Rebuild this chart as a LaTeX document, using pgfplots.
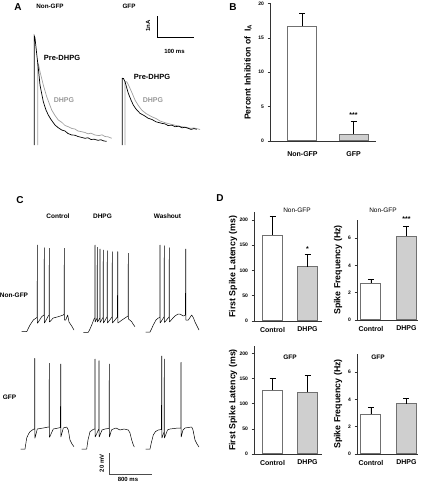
\documentclass[border=0pt]{standalone}
\usepackage{pgfplots}
\pgfplotsset{compat=1.18}
\usepackage{fontspec}
\setmainfont{Liberation Sans}
\definecolor{tracegray}{HTML}{A0A0A0}
\definecolor{labgray}{HTML}{999999}
\definecolor{barfill}{HTML}{CFCFCF}
\definecolor{barline}{HTML}{707070}
\pgfplotsset{
  barax/.style={
    scale only axis, anchor=south west,
    axis x line=bottom, axis y line=left,
    axis line style={-, draw=black!80, line width=0.7pt},
    ybar, bar shift=0pt, ymin=0,
    xtick={0,1},
    x tick style={draw=none},
    ytick pos=left, tick align=outside,
    major tick length=2.5pt,
    y tick style={black!80, line width=0.6pt},
    /pgf/number format/assume math mode=true,
    yticklabel style={font=\fontsize{5}{6}\selectfont\bfseries},
    xticklabel style={font=\fontsize{7}{8}\selectfont\bfseries},
    ylabel style={anchor=center, font=\fontsize{8.8}{10}\selectfont\bfseries},
    error bars/y dir=plus, error bars/y explicit,
    error bars/error bar style={black, line width=0.7pt},
    error bars/error mark options={rotate=90, mark size=3pt, black, line width=0.7pt},
    clip=false,
  },
  wbar/.style={fill=white, draw=barline, line width=1pt},
  gbar/.style={fill=barfill, draw=barline, line width=1pt},
  spk/.style={black, line width=0.5pt, line join=bevel, mark=none},
}
\newcommand{\fs}[1]{\fontsize{#1}{#1}\selectfont}
\begin{document}
\begin{tikzpicture}
\useasboundingbox (0pt,0pt) rectangle (425pt,483pt);

% ---------- traces (pixel coordinates of the figure) ----------
\begin{axis}[at={(0pt,0pt)}, anchor=south west, scale only axis,
  width=425pt, height=483pt, xmin=0, xmax=425, ymin=0, ymax=483,
  y dir=reverse, hide axis, clip=false]
% Panel A, Non-GFP
\addplot[tracegray, line width=0.7pt, mark=none] coordinates {
(37.7,145)(37.7,63.3)(38.5,64)(40,71.7)(43.3,85)(46.7,96.7)(51.7,110)(55,115.5)(58.3,120)(62,122.5)(65,125.5)(68.3,126.7)(72,128.5)(75,129)(78,131)(81.7,131.7)(85,132.5)(88,133.8)(91,133.2)(95,135)(99,135.6)(102,134.8)(105,136.5)(108,136.8)(111.7,138.3)};
\addplot[black, line width=0.7pt, mark=none] coordinates {
(34.3,145)(34.3,36)(35,38)(36.5,52)(38.3,68)(40,85)(43.3,101.7)(46,110)(48.3,115)(51,119.5)(55,125)(58,127.5)(61.7,130)(65,131)(68,133.5)(71.7,135)(75,135.2)(78,136.5)(82,137.5)(85,138.3)(88,137.8)(91,139.5)(94,139.2)(98,140.3)(101,139.8)(104,141)(106.7,141.3)};
% Panel A, GFP
\addplot[tracegray, line width=0.7pt, mark=none] coordinates {
(125,145)(125,81.7)(126.7,81.7)(128,84)(130,88.3)(132.5,94)(135,100)(138,105)(141.7,110)(146,113.5)(151.7,116.7)(156,118.5)(160,121)(165,122.7)(170,124)(175,125.2)(181.7,126.7)(186,127.2)(190,128.3)(194,128)(198.3,129)(200,129.5)};
\addplot[black, line width=0.7pt, mark=none] coordinates {
(122.3,145)(122.3,78.3)(123.5,78.5)(125,81.7)(128.3,93.3)(131,100)(133.3,105)(136,109)(140,113.3)(144,115.5)(148.3,118.3)(152,119.5)(156,121.8)(161.7,123.3)(165,123.9)(168,125.5)(172,125.2)(175,126.7)(179,126.2)(182,127.8)(185,127.3)(188.3,128.3)(191,129.4)(194,128.6)(196.7,129.3)};
% scale bar A
\addplot[black, line width=0.8pt, mark=none] coordinates {(157.3,16)(157.3,37)(194.3,37)};

% Panel C, Non-GFP Control
\addplot[spk] coordinates {
(21.7,331.7)(26.7,331.7)(28.5,328)(30,325)(33.3,320)(36.7,317.7)(37.2,317)(37.3,245)(37.4,245)(37.5,323.3)(41.7,316.7)(44,315)(44.3,247.7)(44.4,247.7)(44.5,323)(48.3,316)(49.1,315)(49.3,248.3)(49.4,248.3)(49.5,322)(53.3,318)(58.3,316.7)(63.3,315)(64.1,314)(64.3,248.3)(64.4,248.3)(64.5,320)(65.7,320)(67.7,315)(69,322)(71.7,326)(74,330)};
% Non-GFP DHPG
\addplot[spk] coordinates {
(83.3,332.3)(88.3,332.3)(90,329)(91.7,325)(94.3,318.3)(94.9,318)(95,245)(95.1,245)(95.2,322)(97.1,318)(97.3,247.3)(97.4,247.3)(97.5,322)(99.8,318)(100,249)(100.1,249)(100.2,322.5)(103,317.5)(103.3,250)(103.4,250)(103.5,323)(107,317)(107.3,250.7)(107.4,250.7)(107.5,323)(112,317)(112.3,251.7)(112.4,251.7)(112.5,323)(117.4,317)(117.7,251.7)(117.8,251.7)(117.9,323)(122,320)(125,318)(128,316)(128.3,253.3)(128.4,253.3)(128.5,319)(131.7,321.7)(133,324)(135,326.7)};
% Non-GFP Washout
\addplot[spk] coordinates {
(145.7,332)(150,332)(151.5,329)(153.3,325)(156,320)(158.3,318)(159.8,317.5)(160,245)(160.1,245)(160.2,323)(164,317)(164.3,245.7)(164.4,245.7)(164.5,322.5)(169,317)(169.3,247.7)(169.4,247.7)(169.5,322)(173,318)(175,316)(178,314)(180,314)(183.3,316)(185.4,315)(185.7,249)(185.8,249)(185.9,320)(188.3,320)(191.7,315)(193.5,318)(195,322)(197,326)(199,330)};
% GFP Control
\addplot[spk] coordinates {
(20.7,449)(25,449)(26.7,438)(28.5,434)(30,431.7)(33.3,429.3)(34.5,429)(34.7,358.3)(34.8,358.3)(34.9,438.3)(37.3,429)(40,428.5)(43.3,428)(46,427.5)(48.3,427)(49.1,427)(49.3,363.3)(49.4,363.3)(49.5,437.3)(53.3,429)(56,428.5)(58.3,428)(60.4,427.5)(60.7,364)(60.8,364)(60.9,437)(63.3,428)(65,427.5)(66.7,427)(68.3,430)(70,440)(72,444)(74,446.7)};
% GFP DHPG
\addplot[spk] coordinates {
(81.7,449)(86.7,449)(88,440)(90,431.7)(93.3,429.3)(94.8,429)(95,359)(95.1,359)(95.2,437)(97,433)(98.8,429)(99,360.7)(99.1,360.7)(99.2,437)(102,430)(105,429)(108,428.5)(109.1,428.5)(109.3,364)(109.4,364)(109.5,437)(111.5,430)(113.3,429)(116,428)(120,430)(124,429)(128.3,430)(130,433)(131.7,440)(133,444)(134.3,447)};
% GFP Washout
\addplot[spk] coordinates {
(145.7,449)(150,449)(151.5,442)(153.3,435)(155.5,431.5)(158.3,430)(161.4,429.5)(161.7,356)(161.8,356)(161.9,438)(164.1,432)(164.3,359)(164.4,359)(164.5,438)(167.5,430)(170,429)(174,428.5)(178,428)(180.8,428)(181,362.3)(181.1,362.3)(181.2,437)(183,430)(185,428)(188,427.5)(191.7,427)(193,430)(195,440)(197,444)(199,447)};
% scale bar C
\addplot[black!70, line width=0.7pt, mark=none] coordinates {(109.3,453.3)(109.3,474)(151.7,474)};
\end{axis}

% ---------- Panel B ----------
\begin{axis}[barax, at={(270pt,342pt)}, width=106pt, height=137.5pt,
  xmin=-0.637, xmax=1.441, ymax=20, ytick={0,5,10,15,20},
  bar width=29pt, xticklabels={Non-GFP,GFP},
  xticklabel style={yshift=-5pt},
  ylabel={Percent Inhibition of\ \ I\textsubscript{A}},
  ylabel style={at={(axis description cs:-0.2075,0.5)}, font=\fs{8.6}\bfseries},
  ]
\addplot[wbar] coordinates {(0,16.7) +- (0,1.8)};
\addplot[gbar] coordinates {(1,1.0) +- (0,1.9)};
\node[font=\fs{7}\bfseries] at (axis cs:1,3.7) {***};
\end{axis}

% ---------- Panel D, top left ----------
\begin{axis}[barax, at={(254pt,162pt)}, width=68pt, height=108.6pt,
  xmin=-0.529, xmax=1.414, ymax=215, ytick={0,50,100,150,200},
  bar width=20pt, xticklabels={Control,DHPG},
  ylabel={First Spike Latency (ms)},
  ylabel style={at={(axis description cs:-0.309,0.5)}},
  ]
\addplot[wbar] coordinates {(0,170) +- (0,38)};
\addplot[gbar] coordinates {(1,107) +- (0,25)};
\node[font=\fs{7}\bfseries] at (axis cs:1,143) {*};
\end{axis}

% ---------- Panel D, top right ----------
\begin{axis}[barax, at={(357pt,163pt)}, width=61pt, height=100pt,
  xmin=-0.394, xmax=1.324, ymax=7.33, ytick={0,2,4,6},
  bar width=20pt, xticklabels={Control,DHPG},
  ylabel={Spike Frequency (Hz)},
  ylabel style={at={(axis description cs:-0.311,0.5)}},
  ]
\addplot[wbar] coordinates {(0,2.7) +- (0,0.3)};
\addplot[gbar] coordinates {(1,6.15) +- (0,0.75)};
\node[font=\fs{7}\bfseries] at (axis cs:1,7.4) {***};
\end{axis}

% ---------- Panel D, bottom left ----------
\begin{axis}[barax, at={(254pt,29pt)}, width=68pt, height=108pt,
  xmin=-0.529, xmax=1.414, ymax=215, ytick={0,50,100,150,200},
  bar width=20pt, xticklabels={Control,DHPG},
  ylabel={First Spike Latency (ms)},
  ylabel style={at={(axis description cs:-0.309,0.5)}},
  ]
\addplot[wbar] coordinates {(0,127) +- (0,23)};
\addplot[gbar] coordinates {(1,123) +- (0,33)};
\end{axis}

% ---------- Panel D, bottom right ----------
\begin{axis}[barax, at={(357pt,29pt)}, width=61pt, height=100pt,
  xmin=-0.394, xmax=1.324, ymax=7.33, ytick={0,2,4,6},
  bar width=20pt, xticklabels={Control,DHPG},
  ylabel={Spike Frequency (Hz)},
  ylabel style={at={(axis description cs:-0.311,0.5)}},
  ]
\addplot[wbar] coordinates {(0,2.9) +- (0,0.55)};
\addplot[gbar] coordinates {(1,3.7) +- (0,0.4)};
\end{axis}

% ---------- text ----------
\begin{scope}[x=1pt,y=-1pt,shift={(0pt,483pt)}]
\node[font=\fs{10}\bfseries] at (18,7) {A};
\node[font=\fs{10}\bfseries] at (233,7) {B};
\node[font=\fs{10}\bfseries] at (20,200) {C};
\node[font=\fs{10}\bfseries] at (220,198) {D};
% A
\node[font=\fs{6.3}\bfseries] at (50,6) {Non-GFP};
\node[font=\fs{6.3}\bfseries] at (129,6) {GFP};
\node[font=\fs{6}\bfseries, rotate=90] at (148,26) {1nA};
\node[font=\fs{6}\bfseries] at (174.5,51) {100 ms};
\node[font=\fs{7.5}\bfseries] at (62,58) {Pre-DHPG};
\node[font=\fs{7}\bfseries, text=labgray] at (64,100) {DHPG};
\node[font=\fs{7.5}\bfseries] at (152,77) {Pre-DHPG};
\node[font=\fs{7}\bfseries, text=labgray] at (153,100) {DHPG};
% C
\node[font=\fs{6.5}\bfseries] at (58,216) {Control};
\node[font=\fs{6.5}\bfseries] at (102.5,216) {DHPG};
\node[font=\fs{6.5}\bfseries] at (167.5,216) {Washout};
\node[font=\fs{6.5}\bfseries] at (14,295) {Non-GFP};
\node[font=\fs{6.5}\bfseries] at (9.5,397) {GFP};
\node[font=\fs{6}\bfseries, rotate=90] at (101.7,463.3) {20 mV};
\node[font=\fs{6}\bfseries] at (128,479) {800 ms};
% D titles
\node[font=\fs{6.5}] at (297,210) {Non-GFP};
\node[font=\fs{6.5}] at (383,210) {Non-GFP};
\node[font=\fs{6.5}\bfseries] at (290,357) {GFP};
\node[font=\fs{6.5}\bfseries] at (378,357) {GFP};
\end{scope}
\end{tikzpicture}
\end{document}
